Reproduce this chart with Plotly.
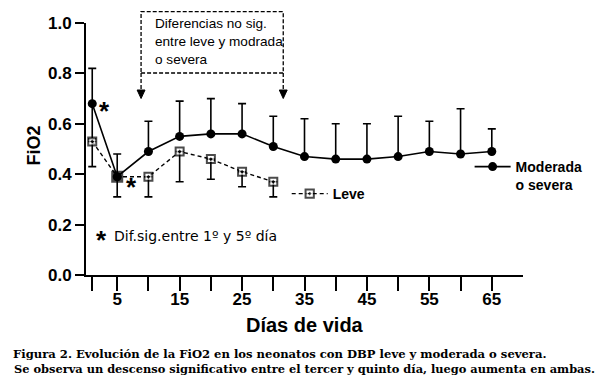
import plotly.graph_objects as go

# ---------------- data ----------------
mod_days = [1, 5, 10, 15, 20, 25, 30, 35, 40, 45, 50, 55, 60, 65]
mod_vals = [0.68, 0.39, 0.49, 0.55, 0.56, 0.56, 0.51, 0.47, 0.46, 0.46, 0.47, 0.49, 0.48, 0.49]
mod_err_up = [0.14, 0.09, 0.12, 0.14, 0.14, 0.12, 0.12, 0.15, 0.14, 0.14, 0.16, 0.12, 0.18, 0.09]
mod_err_dn = [0.14, 0, 0, 0, 0, 0, 0, 0, 0, 0, 0, 0, 0, 0]

leve_days = [1, 5, 10, 15, 20, 25, 30]
leve_vals = [0.53, 0.39, 0.39, 0.49, 0.46, 0.41, 0.37]
leve_err_dn = [0.10, 0.08, 0.08, 0.12, 0.08, 0.06, 0.06]

x_tickvals = [1, 5, 10, 15, 20, 25, 30, 35, 40, 45, 50, 55, 60, 65]
x_ticktext = ["", "5", "", "15", "", "25", "", "35", "", "45", "", "55", "", "65"]
y_tickvals = [0.0, 0.2, 0.4, 0.6, 0.8, 1.0]
y_ticktext = ["0.0", "0.2", "0.4", "0.6", "0.8", "1.0"]

caption1 = "Figura 2. Evolución de la FiO2 en los neonatos con DBP leve y moderada o severa."
caption2 = "Se observa un descenso significativo entre el tercer y quinto día, luego aumenta en ambas."
box_lines = ["Diferencias no sig.", "entre leve y modrada", "o severa"]

# ---------------- layout geometry ----------------
W, H = 600, 386
L, R, T, B = 86, 72, 23, 111
PW, PH = W - L - R, H - T - B


def px(xp):
    return (xp - L) / PW


def py(yp):
    return (H - B - yp) / PH


SANS = "Liberation Sans, Arial, sans-serif"
WIDE = "DejaVu Sans, sans-serif"
SERIF = "DejaVu Serif, serif"

fig = go.Figure()

fig.add_trace(go.Scatter(
    x=mod_days, y=mod_vals, mode="lines+markers",
    name="Moderada<br>o severa",
    line=dict(color="black", width=1.6),
    marker=dict(symbol="circle", size=9, color="black"),
    error_y=dict(type="data", symmetric=False, array=mod_err_up, arrayminus=mod_err_dn,
                 color="black", thickness=1.6, width=4),
    legend="legend", showlegend=True,
))

leve_fill = ["black" if d == 5 else "white" for d in leve_days]
leve_size = [10 if d == 5 else 8 for d in leve_days]
fig.add_trace(go.Scatter(
    x=leve_days, y=leve_vals, mode="lines+markers",
    name="Leve",
    line=dict(color="black", width=1.4, dash="4px,3px"),
    marker=dict(symbol="square-dot", size=leve_size, color=leve_fill,
                line=dict(color="black", width=2)),
    error_y=dict(type="data", symmetric=False, array=[0] * len(leve_days), arrayminus=leve_err_dn,
                 color="black", thickness=1.6, width=4),
    legend="legend2", showlegend=True,
))

annotations = []
star_font = dict(family=SANS, size=26, color="black")
# asterisks next to significant points
annotations.append(dict(x=mod_days[0], y=mod_vals[0], xref="x", yref="y", text="<b>*</b>",
                        showarrow=False, xanchor="center", yanchor="middle",
                        xshift=12, yshift=-7, font=star_font))
annotations.append(dict(x=mod_days[1], y=mod_vals[1], xref="x", yref="y", text="<b>*</b>",
                        showarrow=False, xanchor="center", yanchor="middle",
                        xshift=14, yshift=-10, font=star_font))
# significance note
annotations.append(dict(x=px(102), y=py(236), xref="paper", yref="paper", text="<b>*</b>",
                        showarrow=False, xanchor="center", yanchor="middle",
                        yshift=-4, font=star_font))
annotations.append(dict(x=px(112), y=py(236), xref="paper", yref="paper",
                        text="Dif.sig.entre 1º y 5º día", showarrow=False,
                        xanchor="left", yanchor="middle",
                        font=dict(family=WIDE, size=14, color="black")))
# box text
for t, yc in zip(box_lines, [24, 41.7, 59.3]):
    annotations.append(dict(x=px(154), y=py(yc), xref="paper", yref="paper", text=t,
                            showarrow=False, xanchor="left", yanchor="middle",
                            font=dict(family=SANS, size=13.6, color="black")))
# axis titles
annotations.append(dict(x=0.5, y=py(325), xref="paper", yref="paper", text="Días de vida",
                        showarrow=False, xanchor="center", yanchor="middle",
                        font=dict(family=SANS, size=20, color="black", weight="bold")))
annotations.append(dict(x=px(33), y=py(146), xref="paper", yref="paper", text="FiO2",
                        showarrow=False, xanchor="center", yanchor="middle", textangle=-90,
                        font=dict(family=SANS, size=18, color="black", weight="bold")))
# caption
annotations.append(dict(x=px(10), y=py(354), xref="paper", yref="paper", text=caption1,
                        showarrow=False, xanchor="left", yanchor="middle",
                        font=dict(family=SERIF, size=11.6, color="black", weight="bold")))
annotations.append(dict(x=px(11), y=py(369), xref="paper", yref="paper", text=caption2,
                        showarrow=False, xanchor="left", yanchor="middle",
                        font=dict(family=SERIF, size=11.4, color="black", weight="bold")))

shapes = []
dash_line = dict(color="black", width=1.3, dash="4px,2px")
shapes.append(dict(type="rect", xref="paper", yref="paper",
                   x0=px(141.7), x1=px(285.5), y0=py(73), y1=py(11.7), line=dash_line))
for xa in (141.7, 285.5):
    shapes.append(dict(type="line", xref="paper", yref="paper",
                       x0=px(xa), x1=px(xa), y0=py(73), y1=py(91), line=dash_line))
    shapes.append(dict(type="path", xref="paper", yref="paper",
                       path=f"M {px(xa - 4)},{py(90)} L {px(xa + 4)},{py(90)} L {px(xa)},{py(98.5)} Z",
                       fillcolor="black", line=dict(color="black", width=1)))

fig.update_layout(
    width=W, height=H,
    showlegend=True,
    margin=dict(l=L, r=R, t=T, b=B, pad=0),
    paper_bgcolor="white", plot_bgcolor="white",
    font=dict(family=SANS, color="black"),
    xaxis=dict(range=[0, 70], showline=True, linecolor="black", linewidth=2,
               showgrid=False, zeroline=False, ticks="outside", ticklen=14, tickwidth=2,
               tickcolor="black", tickvals=x_tickvals, ticktext=x_ticktext,
               ticklabelstandoff=-6,
               tickfont=dict(family=SANS, size=17, color="black", weight="bold")),
    yaxis=dict(range=[0, 1.0], showline=True, linecolor="black", linewidth=2,
               showgrid=False, zeroline=False, ticks="outside", ticklen=9, tickwidth=2,
               tickcolor="black", tickvals=y_tickvals, ticktext=y_ticktext,
               tickfont=dict(family=SANS, size=17, color="black", weight="bold")),
    legend=dict(x=px(474), y=py(151), xanchor="left", yanchor="top", valign="top",
                bgcolor="rgba(0,0,0,0)", borderwidth=0, itemwidth=36,
                font=dict(family=SANS, size=14, color="black", weight="bold")),
    legend2=dict(x=px(289), y=py(178), xanchor="left", yanchor="top",
                 bgcolor="rgba(0,0,0,0)", borderwidth=0, itemwidth=36,
                 font=dict(family=SANS, size=14, color="black", weight="bold")),
    annotations=annotations,
    shapes=shapes,
)

fig.write_html("out.html", config={"displayModeBar": False},
               post_script="document.body.style.margin='0';")
